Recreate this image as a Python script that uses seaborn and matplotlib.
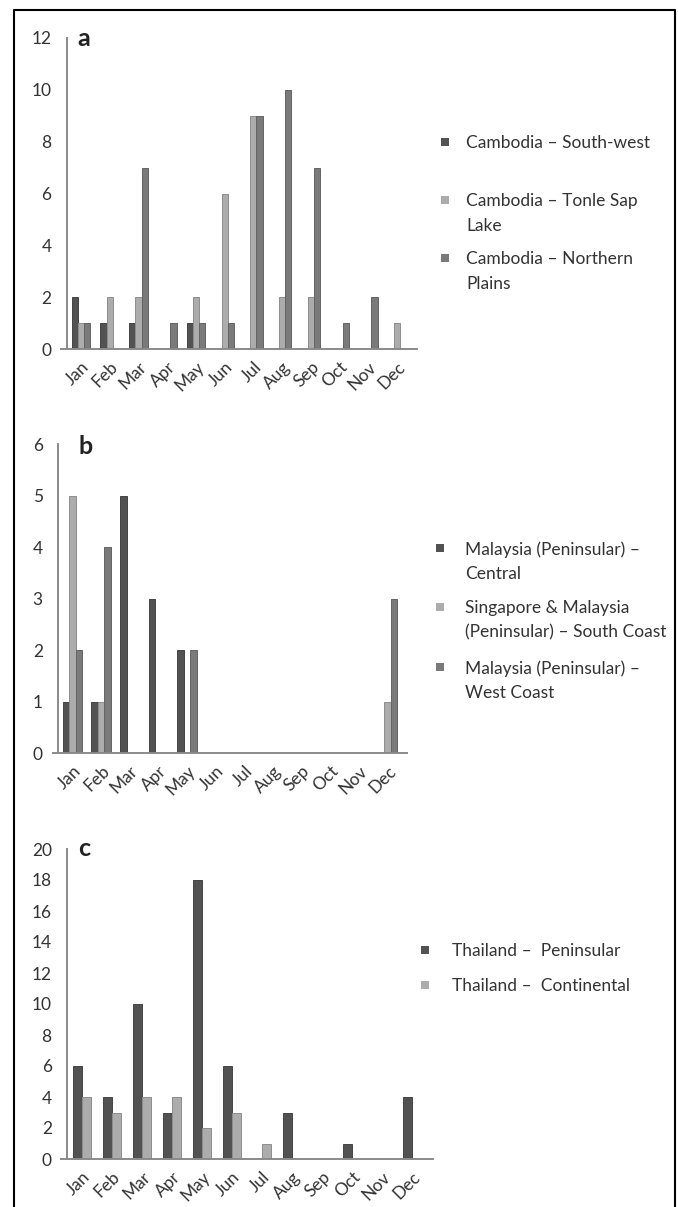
import matplotlib
matplotlib.use("Agg")
import matplotlib.pyplot as plt
import matplotlib.colors as mcolors
import seaborn as sns
import pandas as pd
from matplotlib.patches import Rectangle
from matplotlib.lines import Line2D

months = ["Jan", "Feb", "Mar", "Apr", "May", "Jun", "Jul", "Aug", "Sep", "Oct", "Nov", "Dec"]

# Panel a - Cambodia
regions_a = ["Cambodia \u2013 South-west", "Cambodia \u2013 Tonle Sap\nLake", "Cambodia \u2013 Northern\nPlains"]
a_southwest = [2, 1, 1, 0, 1, 0, 0, 0, 0, 0, 0, 0]
a_tonlesap = [1, 2, 2, 0, 2, 6, 9, 2, 2, 0, 0, 1]
a_northern = [1, 0, 7, 1, 1, 1, 9, 10, 7, 1, 2, 0]
yticks_a = [0, 2, 4, 6, 8, 10, 12]

# Panel b - Malaysia / Singapore
regions_b = ["Malaysia (Peninsular) \u2013\nCentral",
             "Singapore & Malaysia\n(Peninsular) \u2013 South Coast",
             "Malaysia (Peninsular) \u2013\nWest Coast"]
b_central = [1, 1, 5, 3, 2, 0, 0, 0, 0, 0, 0, 0]
b_southcoast = [5, 1, 0, 0, 0, 0, 0, 0, 0, 0, 0, 1]
b_westcoast = [2, 4, 0, 0, 2, 0, 0, 0, 0, 0, 0, 3]
yticks_b = [0, 1, 2, 3, 4, 5, 6]

# Panel c - Thailand
regions_c = ["Thailand \u2013  Peninsular", "Thailand \u2013  Continental"]
c_peninsular = [6, 4, 10, 3, 18, 6, 0, 3, 0, 1, 0, 4]
c_continental = [4, 3, 4, 4, 2, 3, 1, 0, 0, 0, 0, 0]
yticks_c = [0, 2, 4, 6, 8, 10, 12, 14, 16, 18, 20]

panel_letters = ["a", "b", "c"]

DARK = "#525252"
LIGHT = "#acacac"
MID = "#7a7a7a"
TEXT = "#333333"
AXC = "#8a8a8a"

sns.set_style("white")
plt.rcParams["font.family"] = ["Lato", "DejaVu Sans"]

W, H = 678, 1207
fig = plt.figure(figsize=(W / 100, H / 100), dpi=100)

TICK_FS = 12.5
LEG_FS = 12.5


def px_axes(x0, x1, ytop, ybot):
    return fig.add_axes([x0 / W, 1 - ybot / H, (x1 - x0) / W, (ybot - ytop) / H])


def long_df(regions, series):
    rows = []
    for reg, vals in zip(regions, series):
        for m, v in zip(months, vals):
            rows.append({"month": m, "region": reg, "count": v})
    return pd.DataFrame(rows)


def draw_panel(ax, regions, series, colors, yticks, ext, width):
    df = long_df(regions, series)
    sns.barplot(data=df, x="month", y="count", hue="region", order=months,
                hue_order=regions, palette=colors, width=width, saturation=1,
                linewidth=0, ax=ax, legend=False)
    for p in ax.patches:
        r, g, b, a = p.get_facecolor()
        p.set_edgecolor((r * 0.82, g * 0.82, b * 0.82, 1))
        p.set_linewidth(0.7)
    for s in ["top", "right"]:
        ax.spines[s].set_visible(False)
    ax.spines["left"].set_position(("data", -0.5))
    ax.spines["left"].set_color(AXC)
    ax.spines["bottom"].set_color(AXC)
    ax.spines["left"].set_linewidth(1.4)
    ax.spines["bottom"].set_linewidth(1.4)
    ax.set_xlim(-0.5 - ext, 11.5 + ext)
    ax.set_ylim(0, yticks[-1])
    ax.set_yticks(yticks)
    ax.set_yticklabels([str(t) for t in yticks])
    ax.set_xticks([i - 0.5 for i in range(13)], minor=False)
    ax.set_xticklabels([])
    ax.set_xticks(range(12), minor=True)
    ax.set_xticklabels(months, minor=True, rotation=45, ha="right",
                       rotation_mode="anchor")
    ax.tick_params(axis="x", which="minor", length=0, pad=7,
                   labelsize=TICK_FS, labelcolor=TEXT)
    ax.tick_params(axis="x", which="major", length=4, width=1, color=AXC, direction="out")
    ax.tick_params(axis="y", length=4, width=1, color=AXC, direction="out", pad=7,
                   labelsize=TICK_FS, labelcolor=TEXT)
    ax.set_xlabel("")
    ax.set_ylabel("")
    ax.patch.set_alpha(0)


def draw_legend(regions, colors, mx, tx, ys, lh):
    for reg, col, y in zip(regions, colors, ys):
        fig.patches.append(Rectangle(((mx - 4) / W, 1 - (y + 4) / H), 8 / W, 8 / H,
                                     transform=fig.transFigure, facecolor=col,
                                     edgecolor="none", figure=fig))
        ls = lh / (LEG_FS * 100 / 72)
        fig.text(tx / W, 1 - (y - 7) / H, reg, fontsize=LEG_FS, color=TEXT,
                 va="top", ha="left", linespacing=ls * 1.17,
                 transform=fig.transFigure)


# Panel a
ax_a = px_axes(61, 417, 38, 349)
draw_panel(ax_a, regions_a, [a_southwest, a_tonlesap, a_northern],
           [DARK, LIGHT, MID], yticks_a, 0.2, 0.65)
draw_legend(regions_a, [DARK, LIGHT, MID], 445, 466, [142, 200, 258], 25)

# Panel b
ax_b = px_axes(53, 407, 444, 753)
draw_panel(ax_b, regions_b, [b_central, b_southcoast, b_westcoast],
           [DARK, LIGHT, MID], yticks_b, 0.18, 0.68)
draw_legend(regions_b, [DARK, LIGHT, MID], 440, 465, [548, 607, 667], 24)

# Panel c
ax_c = px_axes(61, 433, 849, 1159)
draw_panel(ax_c, regions_c, [c_peninsular, c_continental],
           [DARK, LIGHT], yticks_c, 0.2, 0.58)
draw_legend(regions_c, [DARK, LIGHT], 425, 452, [950, 985], 24)

# Panel letters
for letter, (lx, ly) in zip(panel_letters, [(77, 38), (78, 447), (78, 849)]):
    fig.text(lx / W, 1 - ly / H, letter, fontsize=18, fontweight="bold",
             color="#222222", va="center", ha="left")

# Outer frame (left, top, right)
fig.add_artist(Line2D([14 / W, 14 / W, 675 / W, 675 / W],
                      [0, 1 - 10 / H, 1 - 10 / H, 0],
                      transform=fig.transFigure, color="black", linewidth=1.5))

fig.savefig("out.png", dpi=100, facecolor="white")
